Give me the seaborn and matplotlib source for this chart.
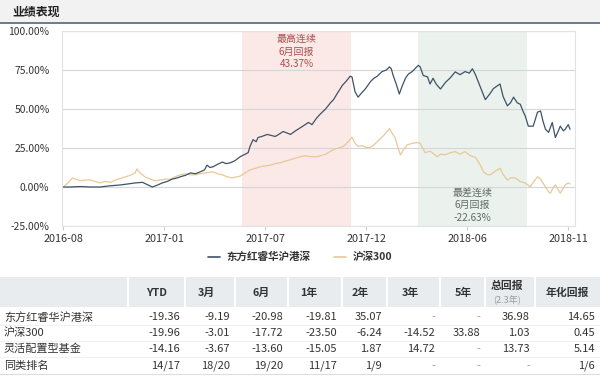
import matplotlib
matplotlib.use("Agg")
import matplotlib.pyplot as plt
import pandas as pd
import seaborn as sns
from matplotlib.lines import Line2D
from matplotlib.patches import Rectangle

# cumulative return (%) of the fund
fund_dates = [
    "2016-08-01", "2016-08-12", "2016-08-29", "2016-09-14", "2016-09-30", "2016-10-17",
    "2016-11-02", "2016-11-15", "2016-11-26", "2016-12-08", "2016-12-16", "2016-12-24",
    "2017-01-02", "2017-01-09", "2017-01-17", "2017-01-25", "2017-02-04", "2017-02-07",
    "2017-02-16", "2017-02-24", "2017-03-04", "2017-03-12", "2017-03-19", "2017-03-23",
    "2017-03-28", "2017-04-02", "2017-04-09", "2017-04-17", "2017-04-23", "2017-04-30",
    "2017-05-08", "2017-05-16", "2017-05-24", "2017-05-29", "2017-06-01", "2017-06-06",
    "2017-06-11", "2017-06-14", "2017-06-21", "2017-06-29", "2017-07-06", "2017-07-12",
    "2017-07-19", "2017-07-25", "2017-08-01", "2017-08-06", "2017-08-14", "2017-08-22",
    "2017-08-30", "2017-09-04", "2017-09-10", "2017-09-17", "2017-09-23", "2017-10-02",
    "2017-10-10", "2017-10-15", "2017-10-21", "2017-10-26", "2017-10-29", "2017-11-05",
    "2017-11-11", "2017-11-14", "2017-11-19", "2017-11-24", "2017-11-29", "2017-12-06",
    "2017-12-14", "2017-12-19", "2017-12-25", "2018-01-02", "2018-01-09", "2018-01-14",
    "2018-01-17", "2018-01-20", "2018-01-25", "2018-01-30", "2018-02-04", "2018-02-09",
    "2018-02-14", "2018-02-20", "2018-02-25", "2018-03-02", "2018-03-05", "2018-03-10",
    "2018-03-17", "2018-03-21", "2018-03-26", "2018-03-31", "2018-04-07", "2018-04-15",
    "2018-04-23", "2018-05-01", "2018-05-09", "2018-05-17", "2018-05-24", "2018-05-29",
    "2018-06-03", "2018-06-11", "2018-06-19", "2018-06-27", "2018-07-02", "2018-07-09",
    "2018-07-13", "2018-07-18", "2018-07-25", "2018-07-30", "2018-08-04", "2018-08-10",
    "2018-08-15", "2018-08-20", "2018-08-23", "2018-08-28", "2018-09-05", "2018-09-12",
    "2018-09-17", "2018-09-21", "2018-09-25", "2018-09-30", "2018-10-06", "2018-10-11",
    "2018-10-16", "2018-10-19", "2018-10-24", "2018-10-27", "2018-11-01", "2018-11-04",
]
fund_values = [
    0, 0, 0.3, 0, 0, 0.8,
    1.3, 2, 2.6, 3, 1.5, 0,
    1.3, 2.6, 3.5, 5, 6, 6.5,
    7.5, 9, 8.5, 9.7, 11, 14,
    12.5, 13, 14.5, 16, 15, 15.5,
    17, 19.4, 21, 22, 26, 30.4,
    29, 31.7, 32.5, 33.7, 33, 32.4,
    34, 35.6, 34.5, 33.7, 36, 38,
    40, 41.4, 40, 44, 46.6, 50,
    54, 56, 60, 63, 65, 68,
    71, 70.6, 61, 57.6, 60, 63,
    67.5, 69.5, 71, 74, 75, 77,
    75.8, 71.5, 66, 59.6, 65, 69.7,
    72.5, 74, 76, 78, 77, 71.5,
    70.6, 66, 69.7, 66, 62.8, 67,
    70, 73.8, 72, 74, 73, 75.8,
    72, 64, 56, 60, 63, 65,
    66, 58, 52, 54, 57.6, 54,
    53, 48, 45.6, 39, 39, 48,
    48.7, 42, 37, 35, 41.4, 31.7,
    36, 39, 36, 37, 40, 37,
]

# cumulative return (%) of the CSI 300 benchmark
hs300_dates = [
    "2016-08-01", "2016-08-07", "2016-08-16", "2016-08-22", "2016-08-29", "2016-09-06",
    "2016-09-14", "2016-09-22", "2016-09-30", "2016-10-08", "2016-10-17", "2016-10-25",
    "2016-11-02", "2016-11-10", "2016-11-18", "2016-11-26", "2016-11-29", "2016-12-04",
    "2016-12-12", "2016-12-21", "2016-12-29", "2017-01-06", "2017-01-14", "2017-01-22",
    "2017-01-30", "2017-02-07", "2017-02-16", "2017-02-24", "2017-03-04", "2017-03-12",
    "2017-03-20", "2017-03-28", "2017-04-02", "2017-04-09", "2017-04-17", "2017-04-25",
    "2017-05-03", "2017-05-10", "2017-05-16", "2017-05-24", "2017-06-01", "2017-06-10",
    "2017-06-18", "2017-06-26", "2017-07-04", "2017-07-12", "2017-07-20", "2017-07-28",
    "2017-08-06", "2017-08-14", "2017-08-22", "2017-08-30", "2017-09-07", "2017-09-18",
    "2017-10-02", "2017-10-15", "2017-10-23", "2017-10-31", "2017-11-08", "2017-11-14",
    "2017-11-19", "2017-11-24", "2017-12-01", "2017-12-09", "2017-12-17", "2017-12-25",
    "2018-01-02", "2018-01-09", "2018-01-14", "2018-01-19", "2018-01-23", "2018-01-28",
    "2018-02-01", "2018-02-06", "2018-02-12", "2018-02-20", "2018-02-28", "2018-03-05",
    "2018-03-13", "2018-03-21", "2018-04-02", "2018-04-07", "2018-04-15", "2018-04-23",
    "2018-05-01", "2018-05-09", "2018-05-17", "2018-05-26", "2018-06-03", "2018-06-11",
    "2018-06-16", "2018-06-22", "2018-06-27", "2018-07-05", "2018-07-13", "2018-07-18",
    "2018-07-25", "2018-07-31", "2018-08-07", "2018-08-15", "2018-08-23", "2018-08-31",
    "2018-09-05", "2018-09-12", "2018-09-17", "2018-09-25", "2018-09-30", "2018-10-03",
    "2018-10-08", "2018-10-11", "2018-10-16", "2018-10-19", "2018-10-24", "2018-10-27",
    "2018-11-01", "2018-11-04",
]
hs300_values = [
    0, 2, 5.8, 5, 3.9, 4.5,
    4.5, 3.5, 2.6, 3.5, 3, 4.5,
    5.5, 6.5, 7.5, 9, 11.6, 9,
    6.5, 5, 3.9, 4.5, 5, 5,
    6.5, 7.8, 8.4, 7.8, 7.8, 8.5,
    9, 9.5, 9.7, 8.5, 7.8, 6.5,
    5.8, 6.5, 7, 9, 11, 12,
    13, 13.5, 14, 15, 15.5, 16.5,
    17.5, 18.5, 19.4, 20, 19.4, 19.4,
    21, 24, 25, 26, 29, 32,
    28, 26, 26.5, 25, 26, 29,
    32, 35, 37.5, 34, 31.7, 25,
    20.5, 24, 27, 28, 28.5, 28,
    22, 23, 19.4, 21, 20.7, 22,
    22.7, 21, 22.7, 20, 19, 14,
    9.7, 8, 7.8, 10, 12, 8,
    4.5, 6, 5.8, 3.5, 2.6, 0,
    3, 6.5, 5, 0, -3, -4,
    0, 1.3, -2, -4, -0.6, 1.3,
    2.6, 2,
]

series_names = ["东方红睿华沪港深", "沪深300"]
series_colors = {"东方红睿华沪港深": "#3e5368", "沪深300": "#e8c898"}

best_span = ("2017-05-19", "2017-11-13")
worst_span = ("2018-03-02", "2018-08-26")
best_label = "最高连续\n6月回报\n43.37%"
worst_label = "最差连续\n6月回报\n-22.63%"

tick_labels = ["2016-08", "2017-01", "2017-07", "2017-12", "2018-06", "2018-11"]
y_ticks = [-25, 0, 25, 50, 75, 100]

table_columns = ["YTD", "3月", "6月", "1年", "2年", "3年", "5年", "总回报", "年化回报"]
table_rows = ["东方红睿华沪港深", "沪深300", "灵活配置型基金", "同类排名"]
table_values = [
    ["-19.36", "-9.19", "-20.98", "-19.81", "35.07", "-", "-", "36.98", "14.65"],
    ["-19.96", "-3.01", "-17.72", "-23.50", "-6.24", "-14.52", "33.88", "1.03", "0.45"],
    ["-14.16", "-3.67", "-13.60", "-15.05", "1.87", "14.72", "-", "13.73", "5.14"],
    ["14/17", "18/20", "19/20", "11/17", "1/9", "-", "-", "-", "1/6"],
]

sns.set_theme(style="white")
plt.rcParams["font.family"] = ["Noto Sans CJK SC", "DejaVu Sans"]
plt.rcParams["axes.unicode_minus"] = False

fig = plt.figure(figsize=(6, 3.76), dpi=100)

# background layer in pixel coordinates for title and table
bg = fig.add_axes([0, 0, 1, 1], zorder=0)
bg.set_xlim(0, 600)
bg.set_ylim(376, 0)
bg.axis("off")

bg.add_patch(Rectangle((0, 0), 600, 22, color="#f2f2f2", lw=0))
bg.plot([0, 600], [22.7, 22.7], color="#5b7286", lw=1.3)
bg.text(12, 12, "业绩表现", fontsize=8.6, fontweight="bold", color="#222222", va="center")

# line chart
ax = fig.add_axes([62 / 600, 1 - 226 / 376, 513 / 600, 195 / 376], zorder=1)
ax.set_facecolor("white")

df = pd.concat([
    pd.DataFrame({"date": pd.to_datetime(hs300_dates), "ret": hs300_values, "name": "沪深300"}),
    pd.DataFrame({"date": pd.to_datetime(fund_dates), "ret": fund_values, "name": "东方红睿华沪港深"}),
])
sns.lineplot(data=df, x="date", y="ret", hue="name", hue_order=["沪深300", "东方红睿华沪港深"],
             palette=series_colors, lw=0.9, ax=ax, legend=False)

ax.axvspan(pd.Timestamp(best_span[0]), pd.Timestamp(best_span[1]), color="#fae9e7", lw=0, zorder=0)
ax.axvspan(pd.Timestamp(worst_span[0]), pd.Timestamp(worst_span[1]), color="#ebf1ec", lw=0, zorder=0)

best_mid = pd.Timestamp(best_span[0]) + (pd.Timestamp(best_span[1]) - pd.Timestamp(best_span[0])) / 2
worst_mid = pd.Timestamp(worst_span[0]) + (pd.Timestamp(worst_span[1]) - pd.Timestamp(worst_span[0])) / 2
ax.text(best_mid, 98, best_label, ha="center", va="top", fontsize=7.2, color="#a9504f", linespacing=1.3)
ax.text(worst_mid, -0.5, worst_label, ha="center", va="top", fontsize=7.2, color="#5c6e63", linespacing=1.3)

ax.set_ylim(-25, 100)
ax.set_yticks(y_ticks)
ax.set_yticklabels([f"{v:.2f}%" for v in y_ticks])
ticks = pd.date_range(pd.Timestamp(fund_dates[0]), pd.Timestamp("2018-11-01"), periods=len(tick_labels))
ax.set_xticks(ticks)
ax.set_xticklabels(tick_labels)
ax.set_xlim(pd.Timestamp("2016-07-30"), pd.Timestamp("2018-11-12"))
ax.set_xlabel("")
ax.set_ylabel("")

ax.yaxis.grid(True, color="#d6d6d6", lw=0.8)
ax.xaxis.grid(False)
for s in ax.spines.values():
    s.set_color("#e2e2e2")
    s.set_linewidth(0.8)
ax.tick_params(axis="y", length=0, pad=9, labelsize=7.4, labelcolor="#333333")
ax.tick_params(axis="x", bottom=True, length=3, width=0.8, color="#cccccc", pad=3,
               labelsize=7.8, labelcolor="#333333")

handles = [Line2D([], [], color=series_colors[n], lw=1.2) for n in series_names]
fig.legend(handles, series_names, loc="center", bbox_to_anchor=(0.5, 1 - 257 / 376), ncol=2,
           frameon=False, prop={"size": 7.6, "weight": "bold"}, handlelength=1.2,
           handletextpad=0.6, columnspacing=2.2, labelcolor="#333333")

# performance table
col_centers = [157, 206, 261, 309, 360, 410, 463, 507, 567]
col_rights = [180, 230, 283, 337, 382, 435, 480, 530, 595]
col_bounds = [128, 185, 235, 288, 342, 387, 440, 485, 535]
row_y = [317, 333, 349, 366]

bg.add_patch(Rectangle((0, 277), 600, 30, color="#e9ecee", lw=0))
for b in col_bounds:
    bg.plot([b, b], [277, 307], color="white", lw=1.5)
for name, cx in zip(table_columns, col_centers):
    if name == "总回报":
        bg.text(cx, 286, name, ha="center", va="center", fontsize=7.8, fontweight="bold", color="#333333")
        bg.text(cx, 300, "(2.3年)", ha="center", va="center", fontsize=6.5, color="#999999")
    else:
        bg.text(cx, 293, name, ha="center", va="center", fontsize=7.8, fontweight="bold", color="#333333")

for i, (rname, vals) in enumerate(zip(table_rows, table_values)):
    y = row_y[i]
    bg.text(4, y, rname, ha="left", va="center", fontsize=8, color="#333333")
    for v, rx in zip(vals, col_rights):
        bg.text(rx, y, v, ha="right", va="center", fontsize=8,
                color="#999999" if v == "-" else "#333333")
    bg.plot([0, 600], [y + 8, y + 8], color="#eeeeee", lw=0.6)
bg.plot([0, 600], [374, 374], color="#dddddd", lw=0.8)

fig.savefig("out.png", dpi=100)
